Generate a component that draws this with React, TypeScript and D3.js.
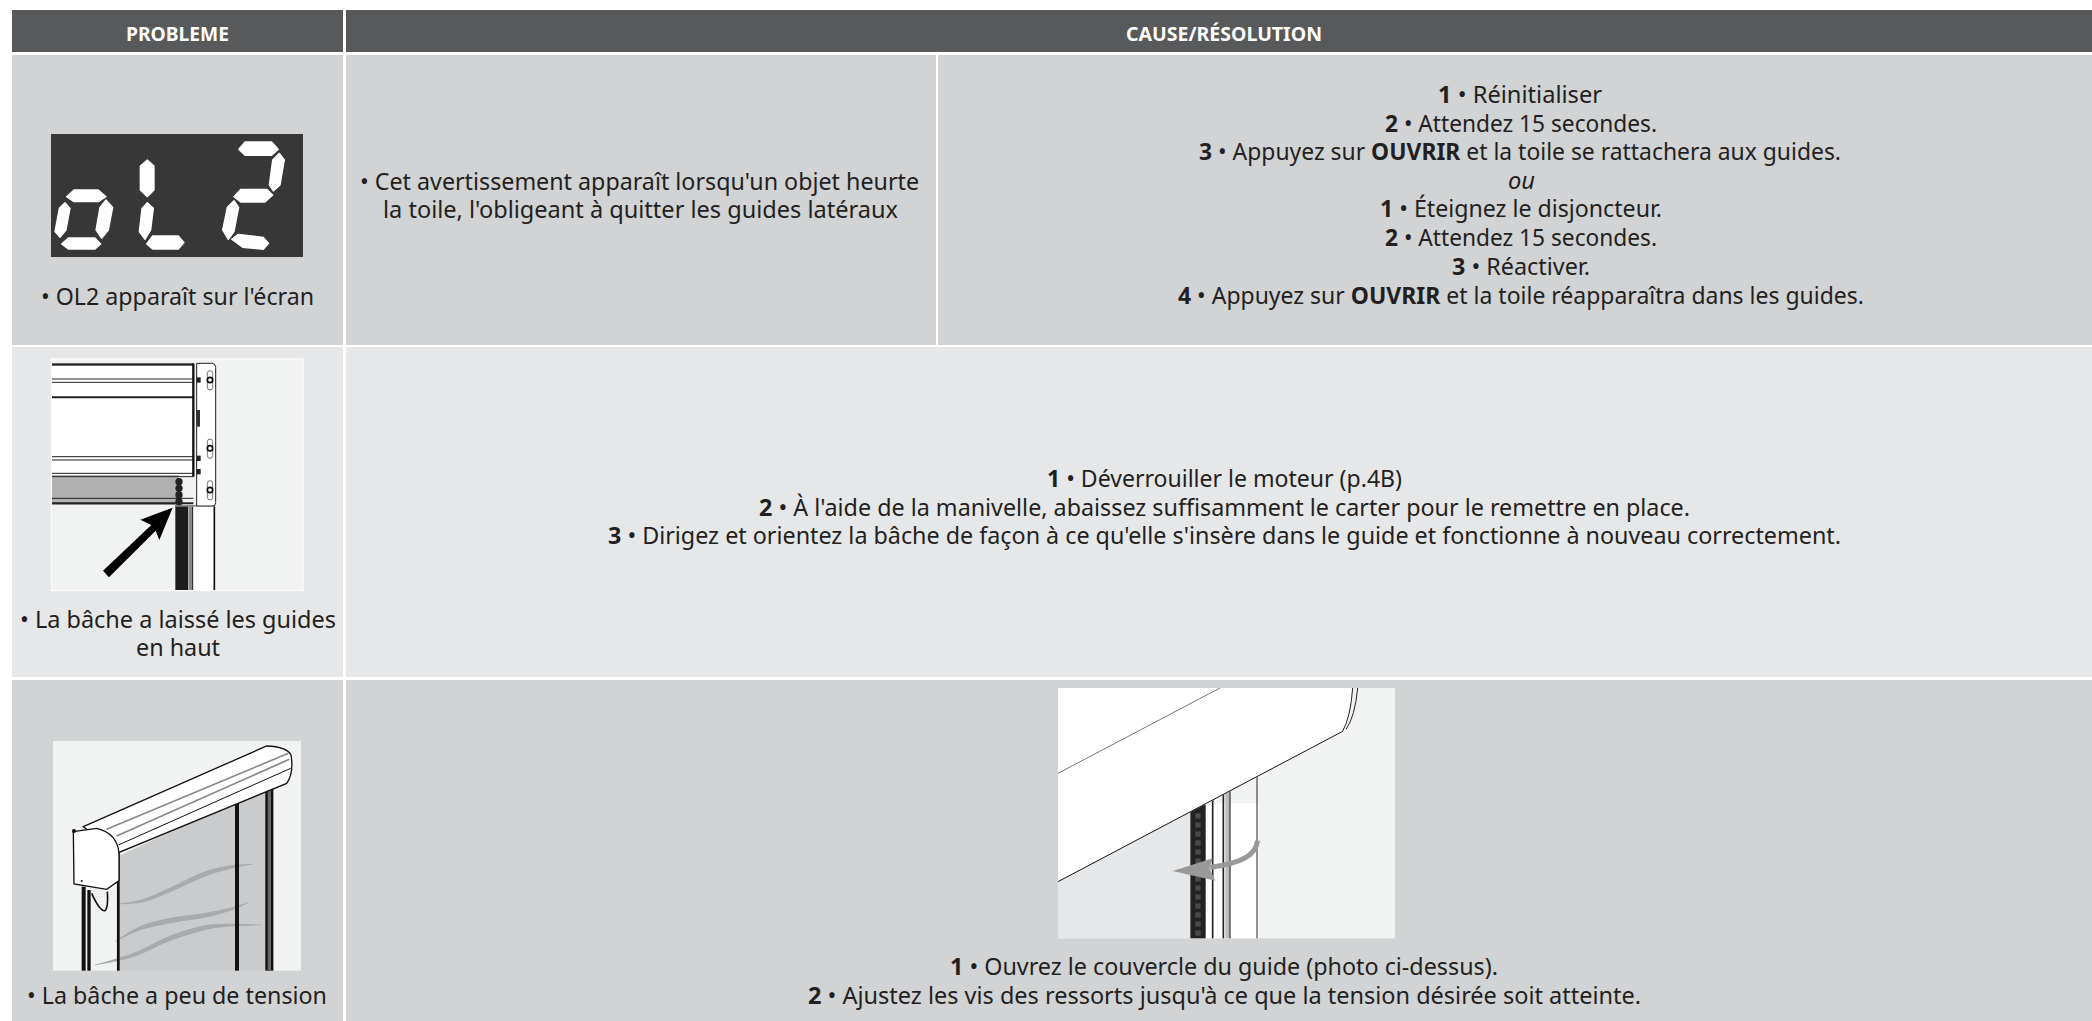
import React from "react";
import * as d3 from "d3";

const W = 2092, H = 1021;
const FONT = "'Noto Sans', sans-serif";
const INK = "#231f20";

type Seg = [string, ("b" | "i")?];
type Line = { x0: number; x1: number; y: number; segs: Seg[] };

// Table structure: band edges in page pixels
const columnEdges = [12, 343, 346, 936, 938, 2092];
const rowBands = [
  { name: "header", y0: 10, y1: 52, fill: "#58595b" },
  { name: "ol2", y0: 55, y1: 345, fill: "#d1d3d4" },
  { name: "guides", y0: 347, y1: 677, fill: "#e6e7e8" },
  { name: "tension", y0: 680, y1: 1021, fill: "#d1d3d4" },
];

// left/right extents and baselines
const headerLines: Line[] = [
  { x0: 126, x1: 229, y: 41, segs: [["PROBLEME", "b"]] },
  { x0: 1126, x1: 1322, y: 41, segs: [["CAUSE/RÉSOLUTION", "b"]] },
];
const problemLines: Line[] = [
  { x0: 41, x1: 314, y: 305, segs: [["• OL2 apparaît sur l'écran"]] },
  { x0: 20, x1: 336, y: 628, segs: [["• La bâche a laissé les guides"]] },
  { x0: 136, x1: 220, y: 656, segs: [["en haut"]] },
  { x0: 27, x1: 327, y: 1004, segs: [["• La bâche a peu de tension"]] },
];
const causeLines: Line[] = [
  { x0: 360, x1: 919, y: 190, segs: [["• Cet avertissement apparaît lorsqu'un objet heurte"]] },
  { x0: 383, x1: 898, y: 218, segs: [["la toile, l'obligeant à quitter les guides latéraux"]] },
];
const resolutionLines: Line[] = [
  { x0: 1438, x1: 1602, y: 103, segs: [["1", "b"], [" • Réinitialiser"]] },
  { x0: 1385, x1: 1657, y: 132, segs: [["2", "b"], [" • Attendez 15 secondes."]] },
  { x0: 1199, x1: 1841, y: 160, segs: [["3", "b"], [" • Appuyez sur "], ["OUVRIR", "b"], [" et la toile se rattachera aux guides."]] },
  { x0: 1508, x1: 1535, y: 189, segs: [["ou", "i"]] },
  { x0: 1380, x1: 1662, y: 217, segs: [["1", "b"], [" • Éteignez le disjoncteur."]] },
  { x0: 1385, x1: 1657, y: 246, segs: [["2", "b"], [" • Attendez 15 secondes."]] },
  { x0: 1452, x1: 1590, y: 275, segs: [["3", "b"], [" • Réactiver."]] },
  { x0: 1178, x1: 1864, y: 304, segs: [["4", "b"], [" • Appuyez sur "], ["OUVRIR", "b"], [" et la toile réapparaîtra dans les guides."]] },
  { x0: 1047, x1: 1402, y: 487, segs: [["1", "b"], [" • Déverrouiller le moteur (p.4B)"]] },
  { x0: 759, x1: 1690, y: 516, segs: [["2", "b"], [" • À l'aide de la manivelle, abaissez suffisamment le carter pour le remettre en place."]] },
  { x0: 608, x1: 1841, y: 544, segs: [["3", "b"], [" • Dirigez et orientez la bâche de façon à ce qu'elle s'insère dans le guide et fonctionne à nouveau correctement."]] },
  { x0: 950, x1: 1498, y: 975, segs: [["1", "b"], [" • Ouvrez le couvercle du guide (photo ci-dessus)."]] },
  { x0: 808, x1: 1641, y: 1004, segs: [["2", "b"], [" • Ajustez les vis des ressorts jusqu'à ce que la tension désirée soit atteinte."]] },
];

// seven-segment glyph pieces, in zoomed-crop units
const sevenSegments = [
  [200, 590, 222, 570, 295, 570, 318, 590, 295, 605, 222, 605],
  [165, 695, 178, 625, 195, 608, 210, 625, 198, 690, 180, 712],
  [288, 690, 300, 622, 318, 600, 338, 622, 325, 690, 305, 715],
  [185, 732, 205, 714, 285, 714, 302, 732, 285, 747, 205, 747],
  [421, 570, 421, 498, 442, 480, 462, 498, 462, 570, 442, 590],
  [418, 695, 426, 625, 442, 608, 460, 625, 452, 690, 435, 718],
  [440, 732, 458, 708, 535, 708, 552, 728, 535, 747, 458, 747],
  [716, 448, 735, 426, 815, 426, 835, 448, 815, 466, 735, 466],
  [808, 555, 818, 480, 838, 460, 853, 480, 840, 555, 820, 573],
  [702, 590, 722, 568, 800, 568, 818, 585, 795, 606, 722, 606],
  [668, 690, 682, 622, 702, 602, 716, 622, 702, 695, 685, 718],
  [695, 718, 715, 703, 790, 712, 806, 730, 790, 748, 728, 742],
];

// tapered creases in the slack fabric: x, y, half thickness
const creases: [number, number, number][][] = [
  [[355, 702, 1], [430, 692, 5], [520, 655, 7], [620, 610, 8], [700, 590, 5], [760, 582, 1]],
  [[345, 815, 1], [420, 775, 6], [520, 750, 8], [620, 735, 7], [700, 715, 4], [745, 697, 1]],
  [[285, 885, 1], [400, 855, 6], [510, 805, 8], [620, 772, 7], [700, 765, 4], [785, 765, 1]],
];

const lineGen = d3.line<[number, number]>();
const creaseArea = d3.area<[number, number, number]>()
  .x((d) => d[0]).y0((d) => d[1] - d[2]).y1((d) => d[1] + d[2]).curve(d3.curveCatmullRom);

function TextLine({ l }: { l: Line }) {
  return (
    <text x={l.x0} y={l.y} textLength={l.x1 - l.x0} lengthAdjust="spacingAndGlyphs"
      fontFamily={FONT} fontSize={23.5} fill={INK}>
      {l.segs.map((s, i) => (
        <tspan key={i} fontWeight={s[1] === "b" ? 700 : 400} fontStyle={s[1] === "i" ? "italic" : "normal"}>{s[0]}</tspan>
      ))}
    </text>
  );
}

const Crop = ({ x, y, children }: { x: number; y: number; children: React.ReactNode }) => (
  <g transform={`translate(${x},${y}) scale(${1 / 3})`}>{children}</g>
);

const Ol2 = () => (
  <Crop x={0} y={0}>
    <rect x={153} y={402} width={756} height={369} fill="#373737" />
    {sevenSegments.map((p, i) => (
      <polygon key={i} points={p.join(",")} fill="#fff" stroke="#fff" strokeWidth={4} strokeLinejoin="round" />
    ))}
  </Crop>
);

const Guides = () => (
  <Crop x={0} y={340}>
    <rect x={154} y={57} width={755} height={695} fill="#f1f2f2" stroke="#fff" strokeWidth={3} />
    <rect x={156} y={70} width={425} height={335} fill="#fff" />
    <rect x={156} y={405} width={380} height={90} fill="#b1b1b1" />
    <rect x={156} y={70} width={424} height={7} fill="#222" />
    {[117, 127, 172, 350, 360, 400, 410, 475, 490].map((y) => (
      <line key={y} x1={156} x2={580} y1={y} y2={y} stroke="#222" strokeWidth={y === 172 || y === 490 ? 6 : 3} />
    ))}
    <line x1={580} x2={580} y1={70} y2={410} stroke="#111" strokeWidth={7} />
    <path d="M590,70 H635 Q647,70 647,82 V488 Q647,500 635,500 H590 Z" fill="#fff" stroke="#222" strokeWidth={3} />
    {[120, 325, 450].map((y) => (
      <g key={y}>
        <rect x={622} y={y - 28} width={16} height={58} rx={8} fill="#fff" stroke="#333" strokeWidth={2} />
        <circle cx={630} cy={y} r={8} fill="#fff" stroke="#111" strokeWidth={5} />
      </g>
    ))}
    <rect x={590} y={210} width={10} height={50} fill="#333" />
    {[120, 355, 395].map((y) => (
      <rect key={y} x={590} y={y - 8} width={12} height={16} fill="#222" />
    ))}
    {[425, 445, 465, 485].map((y) => (
      <circle key={y} cx={537} cy={y} r={11} fill="#222" />
    ))}
    <line x1={525} x2={645} y1={498} y2={498} stroke="#222" strokeWidth={3} />
    <rect x={526} y={500} width={38} height={250} fill="#1c1c1c" />
    <rect x={565} y={500} width={14} height={250} fill="#888" />
    <rect x={579} y={500} width={66} height={250} fill="#fff" />
    <line x1={578} x2={578} y1={500} y2={750} stroke="#222" strokeWidth={3} />
    <line x1={643} x2={643} y1={500} y2={750} stroke="#111" strokeWidth={5} />
    <path d={lineGen([[309, 692], [454, 555], [421, 539], [518, 503], [478, 600], [467, 572], [327, 712]]) + "Z"} fill="#000" />
  </Crop>
);

const Tension = () => (
  <Crop x={0} y={670}>
    <rect x={159} y={213} width={744} height={689} fill="#f1f2f2" />
    <polygon points="350,560 820,345 820,902 350,902" fill="#cacbcd" />
    {creases.map((p, i) => (
      <path key={i} d={creaseArea(p) as string} fill="#a9aaac" />
    ))}
    {[[355, 8, 548], [711, 12, 385], [808, 24, 345]].map(([x, w, top]) => (
      <rect key={x} x={x - w / 2} y={top} width={w} height={902 - top} fill="#111" />
    ))}
    <rect x={803} y={345} width={10} height={557} fill="#666" />
    <path d="M250,470 L800,228 Q860,230 873,255 Q882,310 860,340 L355,548 Z" fill="#fff" stroke="#111" strokeWidth={4} />
    <line x1={320} x2={865} y1={478} y2={250} stroke="#888" strokeWidth={5} />
    <line x1={350} x2={868} y1={498} y2={268} stroke="#888" strokeWidth={5} />
    <line x1={355} x2={872} y1={525} y2={295} stroke="#111" strokeWidth={3} />
    <path d="M220,485 L290,475 Q352,490 357,550 L357,632 L320,658 L222,642 Z" fill="#fff" stroke="#111" strokeWidth={4} />
    <rect x={245} y={650} width={12} height={252} fill="#111" />
    <rect x={262} y={660} width={10} height={242} fill="#111" />
    <path d="M275,670 Q300,725 315,722 Q325,715 322,665" fill="none" stroke="#111" strokeWidth={5} />
    <circle cx={245} cy={633} r={3} fill="#111" />
    <circle cx={222} cy={483} r={6} fill="#111" />
  </Crop>
);

const Detail = () => (
  <Crop x={1040} y={670}>
    <rect x={54} y={54} width={1011} height={751} fill="#f1f2f2" />
    <polygon points="54,635 54,805 450,805 450,425" fill="#e6e7e8" />
    <rect x={450} y={400} width={205} height={405} fill="#fff" />
    <rect x={451} y={405} width={46} height={400} fill="#222" />
    {d3.range(430, 800, 27).map((y) => (
      <rect key={y} x={466} y={y} width={16} height={16} fill="#4a4a4a" />
    ))}
    {[518, 550, 651].map((x) => (
      <line key={x} x1={x} x2={x} y1={320} y2={805} stroke="#222" strokeWidth={x === 651 ? 3 : 5} />
    ))}
    <rect x={556} y={360} width={14} height={445} fill="#bbb" />
    <line x1={570} x2={570} y1={360} y2={805} stroke="#444" strokeWidth={4} />
    <polygon points="54,54 938,54 920,180 54,635" fill="#fff" />
    <line x1={54} x2={540} y1={310} y2={54} stroke="#777" strokeWidth={3} />
    <line x1={54} x2={908} y1={635} y2={184} stroke="#111" strokeWidth={3} />
    <path d="M938,54 Q932,140 908,184 M953,54 Q945,140 918,178" fill="none" stroke="#222" strokeWidth={3} />
    <path d="M652,512 Q650,575 510,592" fill="none" stroke="#999" strokeWidth={15} />
    <polygon points="398,603 518,565 508,595 526,632" fill="#999" />
  </Crop>
);

export default function App() {
  const col = d3.scaleOrdinal<string, [number, number]>()
    .domain(["problem", "middle", "right"])
    .range([[columnEdges[0], columnEdges[1]], [columnEdges[2], columnEdges[3]], [columnEdges[4], columnEdges[5]]]);
  const lines = [...problemLines, ...causeLines, ...resolutionLines];
  return (
    <svg width={W} height={H} viewBox={`0 0 ${W} ${H}`} style={{ position: "absolute", left: 0, top: 0, display: "block" }}>
      <rect width={W} height={H} fill="#fff" />
      {rowBands.map((r) => {
        const a = col("problem");
        const b = col("middle");
        const c = col("right");
        const split = r.name === "ol2";
        return (
          <g key={r.name}>
            <rect x={a[0]} y={r.y0} width={a[1] - a[0]} height={r.y1 - r.y0} fill={r.fill} />
            {split ? (
              <>
                <rect x={b[0]} y={r.y0} width={b[1] - b[0]} height={r.y1 - r.y0} fill={r.fill} />
                <rect x={c[0]} y={r.y0} width={c[1] - c[0]} height={r.y1 - r.y0} fill={r.fill} />
              </>
            ) : (
              <rect x={b[0]} y={r.y0} width={c[1] - b[0]} height={r.y1 - r.y0} fill={r.fill} />
            )}
          </g>
        );
      })}
      <Ol2 />
      <Guides />
      <Tension />
      <Detail />
      {headerLines.map((l, i) => (
        <text key={i} x={l.x0} y={l.y} textLength={l.x1 - l.x0} lengthAdjust="spacingAndGlyphs" fontFamily={FONT} fontSize={20} fontWeight={700} fill="#fff">{l.segs[0][0]}</text>
      ))}
      {lines.map((l, i) => (
        <TextLine key={i} l={l} />
      ))}
    </svg>
  );
}
